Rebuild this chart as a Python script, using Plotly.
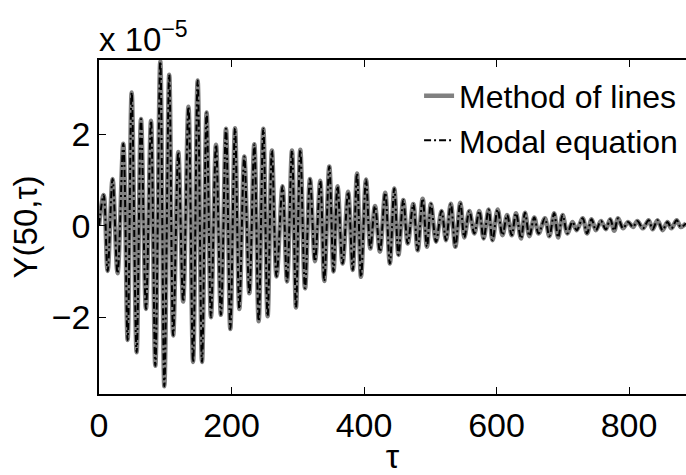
import numpy as np
import plotly.graph_objects as go

# Extrema of Y(50, tau) (values in units of 1e-5)
tau = [0, 7, 13, 20.5, 28, 36.7, 43.2, 49.3, 56.8, 63.4, 70.9, 78.5, 85, 92.5, 98.6,
       106, 112, 119.7, 127, 135, 142, 148.9, 155.5, 162.4, 169, 176.6, 184, 191.7,
       198.2, 205.3, 211.8, 219.3, 226.9, 234.4, 241, 248, 254.5, 261, 268, 277, 283.8,
       291.3, 297.3, 303.8, 311, 318.5, 326, 334, 340, 347.6, 354, 360, 367.7, 376, 383,
       389.4, 395.5, 403, 409.5, 416.6, 424, 432, 439, 445.7, 452, 459.3, 466, 474.4,
       481, 488.5, 495, 501, 508.7, 517, 523.8, 531, 537.8, 545.4, 551.4, 559, 566.5,
       574, 580.5, 588, 594, 601.7, 609, 616, 623, 629.4, 637, 643, 649.6, 657, 663.5,
       673, 679.7, 687, 693, 699.8, 707, 714.6, 721, 730, 736.6, 743.5, 750, 757.7,
       765, 771.6, 777.7, 783.5, 791, 798.6, 806, 812.6, 821, 829.6, 835.6, 843, 850.7,
       858, 864, 872, 878, 886]
y_lines = [0, 0.67, -0.99, 1.02, -1.04, 1.79, -2.50, 2.91, -2.77, 2.33, -1.82, 2.29,
           -3.06, 3.59, -3.51, 3.30, -2.40, 1.61, -1.66, 2.60, -2.98, 3.17, -2.98, 2.47,
           -2.0, 1.77, -1.95, 2.12, -2.26, 2.13, -1.82, 1.51, -1.48, 1.78, -2.09, 2.12,
           -1.98, 1.64, -1.11, 0.86, -1.22, 1.64, -1.79, 1.66, -1.37, 1.02, -0.78, 0.98,
           -1.21, 1.29, -1.00, 0.86, -0.83, 0.74, -0.97, 1.14, -1.12, 1.01, -0.50, 0.43,
           -0.57, 0.72, -0.83, 0.81, -0.64, 0.56, -0.39, 0.47, -0.54, 0.59, -0.46, 0.48,
           -0.35, 0.32, -0.32, 0.48, -0.46, 0.50, -0.26, 0.32, -0.17, 0.32, -0.28, 0.35,
           -0.32, 0.35, -0.21, 0.23, -0.21, 0.27, -0.28, 0.28, -0.23, 0.18, -0.17, 0.16,
           -0.23, 0.27, -0.26, 0.23, -0.17, 0.08, -0.10, 0.16, -0.17, 0.14, -0.10, 0.10,
           -0.08, 0.14, -0.11, 0.16, -0.06, 0.08, -0.03, 0.10, -0.06, 0.12, -0.08, 0.12,
           -0.10, 0.08, -0.06, 0.12, -0.03, 0.05]
y_modal = list(y_lines)

x_ticks = [0, 200, 400, 600, 800]
y_ticks = [-2, 0, 2]
y_tick_text = ["\u22122", "0", "2"]

scale = 1e-5
FONT = "Liberation Sans, Arial, Helvetica, sans-serif"

fig = go.Figure()
fig.add_trace(go.Scatter(
    x=tau, y=np.array(y_lines) * scale, mode="lines", name="Method of lines",
    line=dict(color="#808080", width=4.5, shape="spline", smoothing=1.0)))
fig.add_trace(go.Scatter(
    x=tau, y=np.array(y_modal) * scale, mode="lines", name="Modal equation",
    line=dict(color="black", width=2, shape="spline", smoothing=1.0,
              dash="7px,3px,2px,3px")))

fig.update_layout(
    width=686, height=475,
    margin=dict(l=99, r=0, t=60, b=81),
    paper_bgcolor="white", plot_bgcolor="white",
    font=dict(family=FONT, size=33, color="black"),
    showlegend=True,
    legend=dict(x=0.995, xanchor="right", y=0.975, yanchor="top",
                bgcolor="rgba(0,0,0,0)", borderwidth=0,
                font=dict(family=FONT, size=32), tracegroupgap=0),
    annotations=[dict(text="x 10<sup>\u22125</sup>", xref="paper", yref="paper",
                      x=0, y=1, xanchor="left", yanchor="bottom", showarrow=False,
                      font=dict(family=FONT, size=33), xshift=-2, yshift=0)],
)
fig.update_xaxes(
    range=[0, 886], tickvals=x_ticks, ticks="inside", ticklen=7, tickwidth=1,
    tickcolor="black", showline=True, linecolor="black", linewidth=1.5,
    mirror="ticks", showgrid=False, zeroline=False,
    tickfont=dict(family=FONT, size=34),
    title=dict(text="\u03c4", font=dict(family=FONT, size=34), standoff=7))
fig.update_yaxes(
    range=[-3.68e-5, 3.62e-5], tickvals=[t * scale for t in y_ticks],
    ticktext=y_tick_text, ticks="inside", ticklen=7, tickwidth=1,
    tickcolor="black", showline=True, linecolor="black", linewidth=1.5,
    mirror=False, showgrid=False, zeroline=False,
    tickfont=dict(family=FONT, size=34),
    title=dict(text="Y(50,\u03c4)", font=dict(family=FONT, size=33), standoff=4))

fig.write_html("out.html")
